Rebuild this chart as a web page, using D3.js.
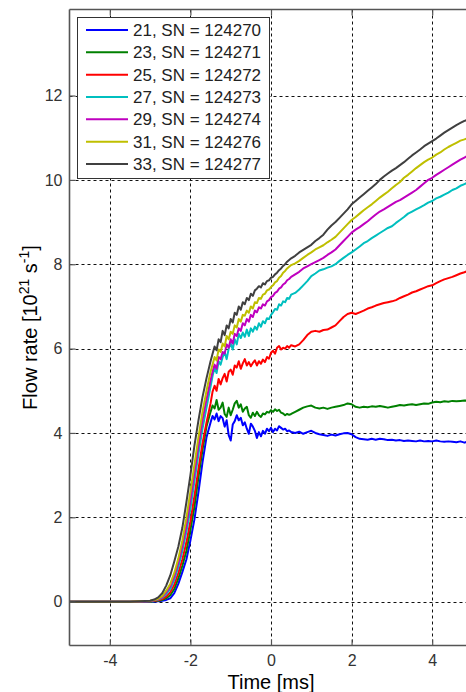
<!DOCTYPE html>
<html>
<head>
<meta charset="utf-8">
<script src="https://cdn.jsdelivr.net/npm/d3@7"></script>
<style>
  html, body { margin: 0; padding: 0; background: #fff; }
  svg { display: block; font-family: "Liberation Sans", Arial, sans-serif; }
</style>
</head>
<body>
<svg id="chart" width="466" height="692"></svg>
<script>
// Sample times [ms]
const timeMs = [
  -5, -4.5, -4, -3.5,
  -3.0, -2.9, -2.8, -2.7, -2.6, -2.5, -2.4, -2.3, -2.2, -2.1, -2.0, -1.9, -1.8, -1.7, -1.6,
  -1.5, -1.45, -1.4, -1.35, -1.3, -1.25, -1.2, -1.15, -1.1, -1.05,
  -1.0, -0.95, -0.9, -0.85, -0.8, -0.75, -0.7, -0.65, -0.6, -0.55,
  -0.5, -0.45, -0.4, -0.35, -0.3, -0.25, -0.2, -0.15, -0.1, -0.05,
  0, 0.05, 0.1, 0.15, 0.2, 0.25, 0.3, 0.35, 0.4, 0.45,
  0.5,
  0.6, 0.7, 0.8, 0.9, 1.0, 1.1, 1.2, 1.3, 1.4, 1.5,
  1.6, 1.7, 1.8, 1.9, 2.0, 2.1, 2.2, 2.3, 2.4, 2.5,
  2.6, 2.7, 2.8, 2.9, 3.0, 3.1, 3.2, 3.3, 3.4, 3.5,
  3.6, 3.7, 3.8, 3.9, 4.0, 4.1, 4.2, 4.3, 4.4, 4.5,
  4.6, 4.7, 4.8, 4.9, 5.0
];

// Flow rate [10^21 s^-1] for each shot
const flow21 = [
  0, 0, 0, 0,
  0, 0, 0.01, 0.02, 0.04, 0.08, 0.2, 0.42, 0.7, 1.0, 1.45, 1.95, 2.6, 3.3, 3.9,
  4.25, 4.4, 4.32, 4.46, 4.28, 4.4, 4.35, 4.15, 4.3, 3.95,
  3.82, 4.2, 4.28, 4.42, 4.3, 4.36, 4.18, 4.25, 4.1, 3.98,
  4.22, 4.15, 4.05, 3.88, 4.02, 3.92, 4.05, 3.98, 4.1, 4.04,
  4.12, 4.02, 4.1, 4.06, 4.16, 4.12, 4.08, 4.1, 4.04, 4.06,
  4.02,
  4.0, 4.03, 3.98, 4.02, 4.05, 4.0, 3.97, 3.95, 3.93, 3.96,
  3.94, 3.97, 3.99, 4.0, 3.97, 3.9, 3.86, 3.85, 3.84, 3.86,
  3.84, 3.86, 3.85, 3.83, 3.84, 3.82, 3.83, 3.81, 3.82, 3.81,
  3.8, 3.82, 3.8, 3.81, 3.8, 3.82, 3.8, 3.79, 3.8, 3.79,
  3.78, 3.8, 3.77, 3.8, 3.78
];
const flow23 = [
  0, 0, 0, 0,
  0, 0.01, 0.02, 0.04, 0.08, 0.15, 0.3, 0.55, 0.85, 1.2, 1.7, 2.25, 2.95, 3.6, 4.15,
  4.5, 4.65, 4.58, 4.78, 4.55, 4.6, 4.72, 4.45, 4.38, 4.6,
  4.42, 4.55, 4.7, 4.76, 4.6, 4.68, 4.5, 4.58, 4.62, 4.42,
  4.36, 4.48, 4.4, 4.5, 4.42, 4.38, 4.46, 4.44, 4.5, 4.48,
  4.54, 4.5, 4.56, 4.52, 4.55, 4.48, 4.46, 4.42, 4.45, 4.43,
  4.45,
  4.5, 4.55, 4.6, 4.63, 4.65, 4.6, 4.58, 4.6, 4.57, 4.6,
  4.62, 4.64, 4.66, 4.7, 4.68, 4.62, 4.6, 4.62, 4.61, 4.63,
  4.62, 4.64, 4.62, 4.6, 4.62, 4.64, 4.66, 4.65, 4.67, 4.68,
  4.66, 4.68, 4.7, 4.69, 4.72, 4.74, 4.73, 4.75, 4.74, 4.76,
  4.75, 4.76, 4.77, 4.76, 4.77
];
const flow25 = [
  0, 0, 0, 0,
  0.01, 0.02, 0.03, 0.06, 0.12, 0.22, 0.4, 0.68, 1.0, 1.4, 1.9, 2.5, 3.15, 3.75, 4.25,
  4.7, 4.98, 5.12, 5.0, 5.28, 5.15, 5.3, 5.4, 5.22, 5.45,
  5.5, 5.38, 5.6, 5.55, 5.7, 5.52, 5.65, 5.75, 5.6, 5.68,
  5.58, 5.66, 5.72, 5.6, 5.7, 5.64, 5.74, 5.68, 5.8, 5.76,
  5.9, 5.95, 5.88, 6.02, 6.06, 5.98, 6.02, 6.0, 6.06, 6.02,
  6.08,
  6.05, 6.1, 6.2, 6.32, 6.4, 6.42, 6.4, 6.44, 6.45, 6.5,
  6.55, 6.65, 6.75, 6.82, 6.85, 6.82, 6.86, 6.9, 6.95, 6.98,
  7.02, 7.05, 7.08, 7.1, 7.12, 7.15, 7.2, 7.24, 7.28, 7.33,
  7.36, 7.4, 7.44, 7.48, 7.5, 7.55, 7.6, 7.64, 7.67, 7.7,
  7.74, 7.78, 7.81, 7.85, 7.88
];
const flow27 = [
  0, 0, 0, 0,
  0.01, 0.03, 0.05, 0.09, 0.18, 0.3, 0.52, 0.82, 1.2, 1.65, 2.2, 2.85, 3.5, 4.1, 4.6,
  5.1, 5.35, 5.55, 5.42, 5.7, 5.62, 5.8, 5.92, 5.75, 6.0,
  6.12, 5.98, 6.22, 6.1, 6.35, 6.25, 6.38, 6.28, 6.45, 6.3,
  6.48, 6.4, 6.52, 6.45, 6.6, 6.52, 6.65, 6.6, 6.72, 6.7,
  6.8, 6.86, 6.94, 6.92, 7.05, 7.02, 7.12, 7.1, 7.2, 7.18,
  7.28,
  7.32, 7.4, 7.5, 7.6, 7.72, 7.78, 7.85, 7.88, 7.92, 7.95,
  8.0, 8.08, 8.15, 8.22, 8.28, 8.35, 8.42, 8.5, 8.55, 8.62,
  8.68, 8.74, 8.8, 8.86, 8.9, 8.98, 9.05, 9.12, 9.2, 9.25,
  9.3, 9.35, 9.4, 9.46, 9.5, 9.56, 9.6, 9.65, 9.7, 9.76,
  9.8, 9.86, 9.9, 9.94, 9.98
];
const flow29 = [
  0, 0, 0, 0,
  0.01, 0.03, 0.06, 0.11, 0.22, 0.36, 0.6, 0.92, 1.32, 1.8, 2.4, 3.05, 3.7, 4.3, 4.8,
  5.25, 5.45, 5.62, 5.52, 5.8, 5.75, 5.92, 5.88, 6.1, 6.02,
  6.22, 6.12, 6.35, 6.3, 6.48, 6.42, 6.6, 6.55, 6.7, 6.64,
  6.8, 6.75, 6.9, 6.86, 6.98, 6.95, 7.05, 7.02, 7.12, 7.15,
  7.22, 7.25, 7.32, 7.35, 7.42, 7.45, 7.52, 7.55, 7.62, 7.65,
  7.7,
  7.76, 7.82, 7.9, 7.95, 8.0, 8.05, 8.1, 8.15, 8.22, 8.28,
  8.35, 8.45, 8.55, 8.65, 8.75, 8.82, 8.88, 8.95, 9.02, 9.1,
  9.18, 9.25, 9.3, 9.36, 9.42, 9.48, 9.52, 9.58, 9.64, 9.7,
  9.76, 9.84, 9.92, 10.0, 10.05, 10.12, 10.18, 10.24, 10.3, 10.36,
  10.42, 10.48, 10.53, 10.58, 10.62
];
const flow31 = [
  0, 0, 0, 0,
  0.02, 0.04, 0.07, 0.13, 0.26, 0.42, 0.68, 1.02, 1.45, 1.98, 2.6, 3.25, 3.9, 4.5, 5.0,
  5.45, 5.62, 5.8, 5.72, 5.98, 5.92, 6.12, 6.05, 6.3, 6.22,
  6.4, 6.35, 6.55, 6.5, 6.7, 6.64, 6.8, 6.78, 6.9, 6.85,
  7.0, 6.95, 7.1, 7.08, 7.2, 7.18, 7.28, 7.3, 7.38, 7.4,
  7.46, 7.5, 7.57, 7.6, 7.68, 7.72, 7.8, 7.84, 7.9, 7.94,
  7.98,
  8.02, 8.08, 8.15, 8.22, 8.28, 8.35, 8.4, 8.45, 8.52, 8.58,
  8.65, 8.75, 8.85, 8.95, 9.05, 9.12, 9.2, 9.28, 9.35, 9.42,
  9.5, 9.58, 9.65, 9.72, 9.8, 9.88, 9.95, 10.05, 10.12, 10.2,
  10.28, 10.35, 10.42, 10.48, 10.53, 10.6, 10.65, 10.72, 10.78, 10.83,
  10.88, 10.93, 10.96, 11.0, 11.02
];
const flow33 = [
  0, 0, 0, 0,
  0.02, 0.05, 0.1, 0.2, 0.38, 0.62, 0.95, 1.3, 1.75, 2.35, 3.0, 3.7, 4.3, 4.85, 5.3,
  5.7, 5.88, 6.05, 5.96, 6.22, 6.15, 6.42, 6.32, 6.55, 6.48,
  6.7, 6.62, 6.85, 6.8, 7.0, 6.92, 7.1, 7.05, 7.2, 7.15,
  7.3, 7.25, 7.38, 7.42, 7.48, 7.45, 7.55, 7.52, 7.6, 7.62,
  7.68, 7.7, 7.76, 7.8, 7.86, 7.9, 7.96, 8.0, 8.06, 8.1,
  8.14,
  8.2, 8.28, 8.34, 8.4, 8.46, 8.55, 8.62, 8.7, 8.82, 8.92,
  9.0, 9.1, 9.2, 9.3, 9.42, 9.5, 9.58, 9.66, 9.74, 9.82,
  9.9, 10.0, 10.08, 10.15, 10.22, 10.28, 10.35, 10.42, 10.5, 10.58,
  10.65, 10.72, 10.8, 10.86, 10.92, 10.98, 11.05, 11.12, 11.18, 11.24,
  11.3, 11.35, 11.4, 11.43, 11.46
];

const seriesLabels = [
  "21, SN = 124270", "23, SN = 124271", "25, SN = 124272", "27, SN = 124273",
  "29, SN = 124274", "31, SN = 124276", "33, SN = 124277"
];
const seriesValues = [flow21, flow23, flow25, flow27, flow29, flow31, flow33];
const seriesColors = ["#0000ff", "#008000", "#ff0000", "#00bfbf", "#bf00bf", "#bfbf00", "#404040"];

const xTicks = [-4, -2, 0, 2, 4];
const yTicks = [0, 2, 4, 6, 8, 10, 12];

// Plot area
const plotLeft = 69.5, plotRight = 472.5, plotTop = 9.5, plotBottom = 645.5;

const x = d3.scaleLinear().domain([-5, 5]).range([plotLeft, plotRight]);
const y = d3.scaleLinear().domain([-1.04, 14.04]).range([plotBottom, plotTop]);

const svg = d3.select("#chart");

svg.append("defs").append("clipPath").attr("id", "plotClip")
  .append("rect")
  .attr("x", plotLeft).attr("y", plotTop)
  .attr("width", plotRight - plotLeft).attr("height", plotBottom - plotTop);

// Dashed grid
const grid = svg.append("g")
  .attr("stroke", "#111")
  .attr("stroke-width", 1)
  .attr("stroke-dasharray", "3,3");
grid.selectAll("line.gx").data(xTicks).join("line")
  .attr("class", "gx")
  .attr("x1", d => Math.round(x(d)) + 0.5).attr("x2", d => Math.round(x(d)) + 0.5)
  .attr("y1", plotTop).attr("y2", plotBottom);
grid.selectAll("line.gy").data(yTicks).join("line")
  .attr("class", "gy")
  .attr("y1", d => Math.round(y(d)) + 0.5).attr("y2", d => Math.round(y(d)) + 0.5)
  .attr("x1", plotLeft).attr("x2", plotRight);

// Flow rate traces
const line = d3.line()
  .x((d, i) => x(timeMs[i]))
  .y(d => y(d));

svg.append("g").attr("clip-path", "url(#plotClip)")
  .selectAll("path")
  .data(seriesValues)
  .join("path")
  .attr("d", d => line(d))
  .attr("fill", "none")
  .attr("stroke", (d, i) => seriesColors[i])
  .attr("stroke-width", 2)
  .attr("stroke-linejoin", "round");

// Axes with inward ticks
const axisColor = "#555";
const tickLen = 6;

const gBottom = svg.append("g").attr("transform", `translate(0,${plotBottom})`)
  .call(d3.axisBottom(x).tickValues(xTicks).tickSize(-tickLen).tickPadding(9)
    .tickFormat(d => d < 0 ? "-" + Math.abs(d) : d));
const gTop = svg.append("g").attr("transform", `translate(0,${plotTop})`)
  .call(d3.axisTop(x).tickValues(xTicks).tickSize(-tickLen).tickFormat(""));
const gLeft = svg.append("g").attr("transform", `translate(${plotLeft},0)`)
  .call(d3.axisLeft(y).tickValues(yTicks).tickSize(-tickLen).tickPadding(7));
const gRight = svg.append("g").attr("transform", `translate(${plotRight},0)`)
  .call(d3.axisRight(y).tickValues(yTicks).tickSize(-tickLen).tickFormat(""));

[gBottom, gTop, gLeft, gRight].forEach(g => {
  g.select(".domain").attr("stroke", axisColor).attr("stroke-width", 1.6);
  g.selectAll(".tick line").attr("stroke", axisColor).attr("stroke-width", 1.2);
  g.selectAll(".tick text")
    .attr("fill", "#333")
    .style("font-family", "'Liberation Sans', Arial, sans-serif")
    .style("font-size", "16px");
});
// plain frame lines without end stubs
[gBottom, gTop].forEach(g => g.select(".domain").attr("d", `M${plotLeft},0H${plotRight}`));
[gLeft, gRight].forEach(g => g.select(".domain").attr("d", `M0,${plotTop}V${plotBottom}`));

// Axis titles
svg.append("text")
  .attr("x", x(0)).attr("y", 689)
  .attr("text-anchor", "middle")
  .attr("fill", "#000")
  .style("font-size", "20px")
  .text("Time [ms]");

const yTitle = svg.append("text")
  .attr("transform", `translate(37,${(plotTop + plotBottom) / 2}) rotate(-90)`)
  .attr("text-anchor", "middle")
  .attr("fill", "#000")
  .style("font-size", "20px");
yTitle.append("tspan").text("Flow rate [10");
yTitle.append("tspan").attr("dy", -8).style("font-size", "14px").text("21");
yTitle.append("tspan").attr("dy", 8).text(" s");
yTitle.append("tspan").attr("dy", -8).style("font-size", "14px").text("-1");
yTitle.append("tspan").attr("dy", 8).text("]");

// Legend
const legend = svg.append("g");
legend.append("rect")
  .attr("x", 77.5).attr("y", 17.5)
  .attr("width", 192).attr("height", 161)
  .attr("fill", "#fff")
  .attr("stroke", "#333").attr("stroke-width", 1);

const rowY = d3.scaleLinear().domain([0, 6]).range([30, 164]);
const rows = legend.selectAll("g.row").data(seriesLabels).join("g")
  .attr("class", "row")
  .attr("transform", (d, i) => `translate(0,${rowY(i)})`);
rows.append("line")
  .attr("x1", 86).attr("x2", 128)
  .attr("stroke", (d, i) => seriesColors[i])
  .attr("stroke-width", 2);
rows.append("text")
  .attr("x", 133).attr("dy", "0.36em")
  .attr("fill", "#222")
  .style("font-size", "17px")
  .text(d => d);
</script>
</body>
</html>
